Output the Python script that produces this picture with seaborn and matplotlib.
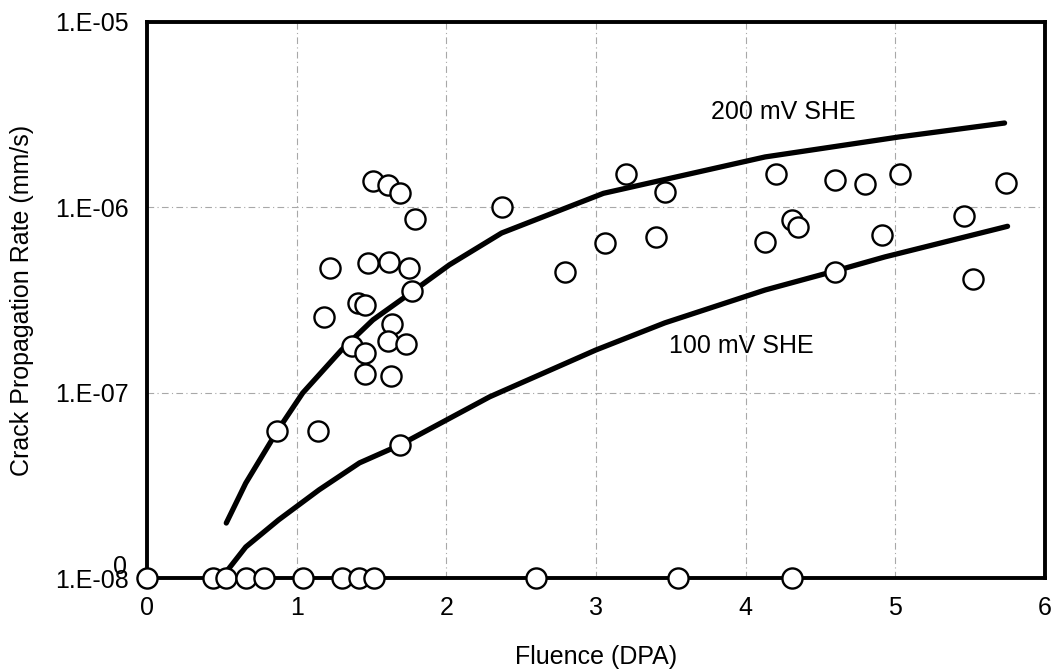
import matplotlib
matplotlib.use("Agg")
import matplotlib.pyplot as plt
import seaborn as sns
import numpy as np
import pandas as pd

# Data
pts_x = [1.51, 1.61, 1.69, 1.79, 1.22, 1.48, 1.62, 1.75, 1.77, 1.41, 1.46, 1.18,
         1.64, 1.61, 1.37, 1.73, 1.46, 1.46, 1.63, 0.87, 1.14, 1.69,
         2.37, 2.79, 3.06, 3.40, 3.20, 3.46, 4.20, 4.13, 4.31, 4.35, 4.60, 4.60,
         4.80, 4.91, 5.03, 5.46, 5.52, 5.74]
pts_y = [1.39e-6, 1.32e-6, 1.19e-6, 8.65e-7, 4.7e-7, 5.0e-7, 5.07e-7, 4.7e-7, 3.53e-7,
         3.05e-7, 2.97e-7, 2.56e-7, 2.34e-7, 1.90e-7, 1.78e-7, 1.83e-7, 1.64e-7,
         1.26e-7, 1.23e-7, 6.2e-8, 6.2e-8, 5.2e-8,
         1.0e-6, 4.5e-7, 6.4e-7, 6.9e-7, 1.51e-6, 1.21e-6, 1.51e-6, 6.5e-7, 8.5e-7,
         7.8e-7, 1.40e-6, 4.5e-7, 1.34e-6, 7.1e-7, 1.51e-6, 9.0e-7, 4.1e-7, 1.35e-6]
zero_x = [0.0, 0.44, 0.53, 0.66, 0.78, 1.04, 1.30, 1.42, 1.52, 2.60, 3.55, 4.31]
zero_y = [1e-8] * len(zero_x)

c200_x = [0.53, 0.66, 0.87, 1.04, 1.30, 1.51, 1.77, 2.02, 2.37, 3.05, 4.13, 5.03, 5.73]
c200_y = [1.98e-8, 3.25e-8, 6.2e-8, 9.95e-8, 1.70e-7, 2.47e-7, 3.49e-7, 4.89e-7,
          7.27e-7, 1.19e-6, 1.87e-6, 2.4e-6, 2.85e-6]
c100_x = [0.53, 0.66, 0.88, 1.15, 1.42, 1.69, 2.29, 3.0, 3.46, 4.13, 4.60, 4.93, 5.75]
c100_y = [1.08e-8, 1.47e-8, 2.06e-8, 2.99e-8, 4.18e-8, 5.22e-8, 9.5e-8, 1.70e-7,
          2.38e-7, 3.58e-7, 4.54e-7, 5.4e-7, 7.9e-7]

yticks = [1e-8, 1e-7, 1e-6, 1e-5]
ytick_labels = ["1.E-08", "1.E-07", "1.E-06", "1.E-05"]
xticks = [0, 1, 2, 3, 4, 5, 6]

sns.set_style("white")
plt.rcParams['font.family'] = ['Liberation Sans', 'DejaVu Sans']
plt.rcParams['text.color'] = 'black'
plt.rcParams['axes.labelcolor'] = 'black'
plt.rcParams['xtick.color'] = 'black'
plt.rcParams['ytick.color'] = 'black'

FS = 18

fig = plt.figure(figsize=(10.55, 6.70), dpi=100)
ax = fig.add_axes([0.1393, 0.1373, 0.8512, 0.8299])
ax.set_yscale("log")
ax.set_xlim(0, 6)
ax.set_ylim(1e-8, 1e-5)

for xv in [1, 2, 3, 4, 5]:
    ax.axvline(xv, color="#a8a8a8", lw=0.8, ls=(0, (6, 3, 1, 3)), zorder=0)
for yv in [1e-7, 1e-6]:
    ax.axhline(yv, color="#a8a8a8", lw=0.8, ls=(0, (6, 3, 1, 3)), zorder=0)

df200 = pd.DataFrame({"x": c200_x, "y": c200_y})
df100 = pd.DataFrame({"x": c100_x, "y": c100_y})
sns.lineplot(data=df200, x="x", y="y", ax=ax, color="black", lw=3.8, sort=False, zorder=2)
sns.lineplot(data=df100, x="x", y="y", ax=ax, color="black", lw=3.8, sort=False, zorder=2)

dfp = pd.DataFrame({"x": pts_x + zero_x, "y": pts_y + zero_y})
sns.scatterplot(data=dfp, x="x", y="y", ax=ax, s=210, facecolor="white",
                edgecolor="black", linewidth=1.7, zorder=5, clip_on=False)

ax.text(4.25, 3.27e-6, "200 mV SHE", fontsize=FS, ha="center", va="center")
ax.text(3.97, 1.79e-7, "100 mV SHE", fontsize=FS, ha="center", va="center")

ax.set_yticks(yticks)
ax.set_yticklabels(ytick_labels)
ax.minorticks_off()
ax.set_xticks(xticks)
ax.set_xticklabels([str(t) for t in xticks])
ax.tick_params(axis="x", length=0, labelsize=FS, pad=13)
ax.tick_params(axis="y", length=0, labelsize=FS, pad=13)

ax.set_xlabel("Fluence (DPA)", fontsize=FS)
ax.set_ylabel("Crack Propagation Rate (mm/s)", fontsize=FS)
ax.xaxis.label.set_va("center")
ax.xaxis.set_label_coords(0.5, -0.142)
ax.yaxis.label.set_va("center")
ax.yaxis.label.set_ha("center")
ax.yaxis.set_label_coords(-0.139, 0.5)

for sp in ax.spines.values():
    sp.set_visible(True)
    sp.set_color("black")
    sp.set_linewidth(2.8)
    sp.set_zorder(3)

# stray "0" label overlapping the lowest y tick label
ax.text(-0.030, 0.020, "0", fontsize=FS, ha="center", va="center",
        transform=ax.transAxes, clip_on=False)

fig.savefig("out.png", dpi=100)
